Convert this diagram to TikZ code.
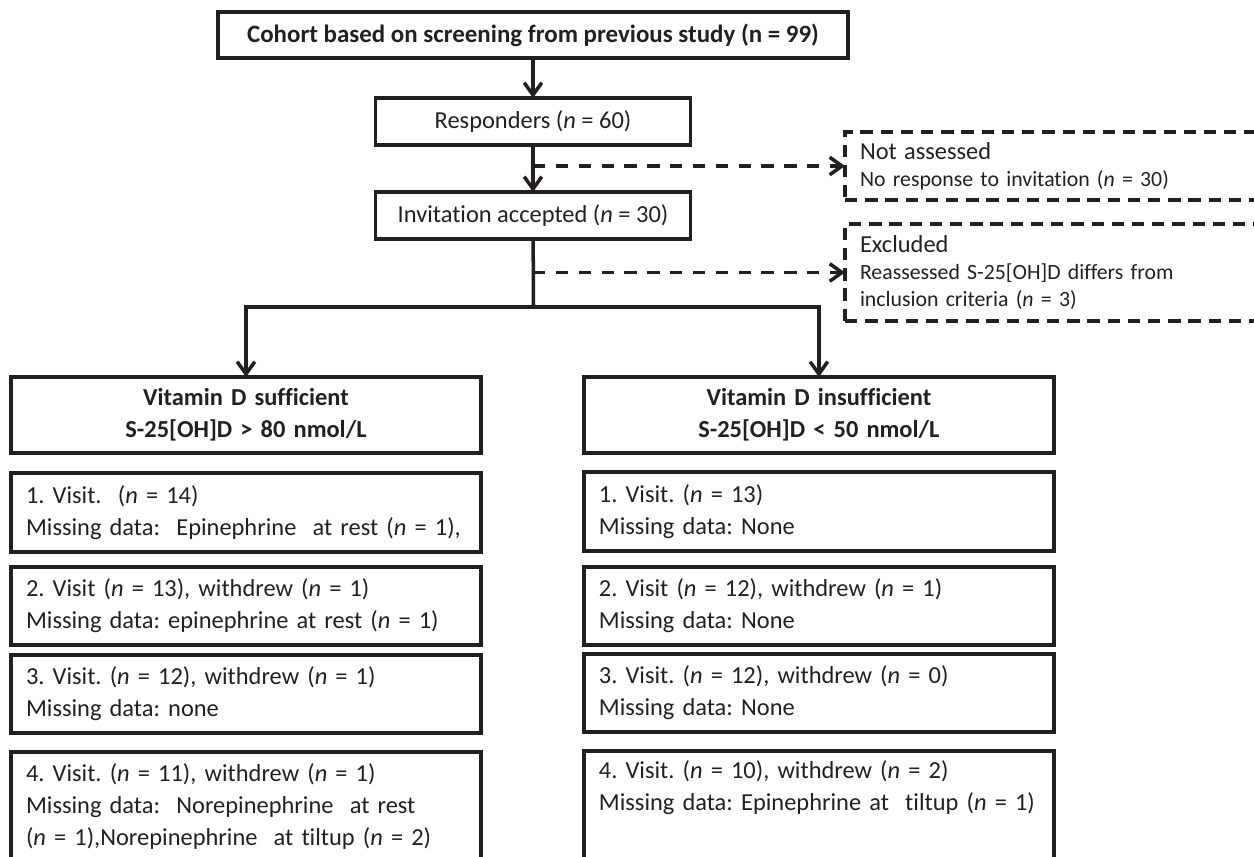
\documentclass[tikz,border=0pt]{standalone}
\usepackage{fontspec}
\setmainfont{Carlito}[Ligatures=NoCommon]
\usepackage{xcolor}
\definecolor{ink}{RGB}{35,31,32}
\usetikzlibrary{arrows.meta,positioning}
\newcommand\basesz{\fontsize{13.9}{18.2}\selectfont}
\newcommand\smallsz{\fontsize{12.4}{15.3}\selectfont}
\frenchspacing

\begin{document}
\begin{tikzpicture}[
  x=0.02cm, y=-0.02cm,
  font=\basesz, color=ink,
  every node/.style={outer sep=0pt},
  head/.style={draw, line width=2.2pt, align=center, inner sep=0pt},
  grp/.style={draw, line width=2.2pt, minimum width=9.4cm, minimum height=1.52cm,
              text width=9.4cm, align=center, inner sep=0pt, font=\basesz\bfseries},
  visit/.style={draw, line width=2.2pt, minimum width=9.4cm, minimum height=1.56cm,
                text width=8.8cm, inner xsep=0.3cm, align=left},
  exbox/.style={draw, line width=2.2pt, dash pattern=on 7pt off 4.5pt,
                minimum width=9.5cm, text width=8.9cm, inner xsep=0.3cm,
                align=left, font=\smallsz},
  arr/.style={line width=2pt, -{Straight Barb[length=7pt,width=10pt]}},
  darr/.style={arr, dash pattern=on 7pt off 6pt},
  line/.style={line width=2pt},
]
  \useasboundingbox (0,0) rectangle (1254,856);
  \clip (0,0) rectangle (1254,856);

  % main stream
  \node[head, minimum width=12.6cm, minimum height=0.92cm, font=\fontsize{14.2}{18}\selectfont\bfseries] (cohort) at (533,35)
    {Cohort based on screening from previous study (n = 99)};
  \node[head, below=0.8cm of cohort, minimum width=6.3cm, minimum height=0.94cm] (resp)
    {Responders (\textit{n} = 60)};
  \node[head, below=0.94cm of resp, minimum width=6.3cm, minimum height=0.94cm] (inv)
    {Invitation accepted (\textit{n} = 30)};

  % drop-outs
  \node[exbox, anchor=north west, minimum height=1.36cm] (na) at (845,132)
    {{\basesz Not assessed}\\No response to invitation (\textit{n} = 30)};
  \node[exbox, anchor=north west, minimum height=1.94cm] (ex) at (845,224)
    {{\basesz Excluded}\\Reassessed S-25[OH]D differs from\\inclusion criteria (\textit{n} = 3)};

  % groups
  \node[grp] (suff) at (246,415) {Vitamin D sufficient\\S-25[OH]D > 80 nmol/L};
  \node[grp, right=2.06cm of suff] (insuff) {Vitamin D insufficient\\S-25[OH]D < 50 nmol/L};

  \node[visit, below=0.4cm of suff, minimum height=1.58cm] (s1)
    {1. Visit.\ \ (\textit{n} = 14)\\Missing data:\ \ Epinephrine\ \ at rest (\textit{n} = 1),};
  \node[visit, below=0.3cm of s1] (s2)
    {2. Visit (\textit{n} = 13), withdrew (\textit{n} = 1)\\Missing data: epinephrine at rest (\textit{n} = 1)};
  \node[visit, below=0.2cm of s2] (s3)
    {3. Visit. (\textit{n} = 12), withdrew (\textit{n} = 1)\\Missing data: none};
  \node[visit, below=0.38cm of s3, minimum height=2.2cm] (s4)
    {4. Visit. (\textit{n} = 11), withdrew (\textit{n} = 1)\\Missing data:\ \ Norepinephrine\ \ at rest\\(\textit{n} = 1),Norepinephrine\ \ at tiltup\ (\textit{n} = 2)};

  \node[visit, below=0.38cm of insuff, minimum height=1.58cm] (i1)
    {1. Visit. (\textit{n} = 13)\\Missing data: None};
  \node[visit, below=0.32cm of i1] (i2)
    {2. Visit (\textit{n} = 12), withdrew (\textit{n} = 1)\\Missing data: None};
  \node[visit, below=0.18cm of i2] (i3)
    {3. Visit. (\textit{n} = 12), withdrew (\textit{n} = 0)\\Missing data: None};
  \node[visit, below=0.38cm of i3, minimum height=2.2cm] (i4)
    {4. Visit. (\textit{n} = 10), withdrew (\textit{n} = 2)\\Missing data: Epinephrine at\ \ tiltup\ (\textit{n} = 1)\\\strut};

  % connectors
  \coordinate (split) at (533.5,307);
  \coordinate (na-in) at (resp.south |- na.west);
  \coordinate (ex-in) at (resp.south |- ex.west);
  \draw[arr] (cohort) -- (resp);
  \draw[arr] (resp) -- (inv);
  \draw[line] (inv) -- (split);
  \draw[arr] (split) -| (suff);
  \draw[arr] (split) -| (insuff);
  \draw[darr] (na-in) -- (na.west);
  \draw[darr] (ex-in) -- (ex.west);
\end{tikzpicture}
\end{document}
